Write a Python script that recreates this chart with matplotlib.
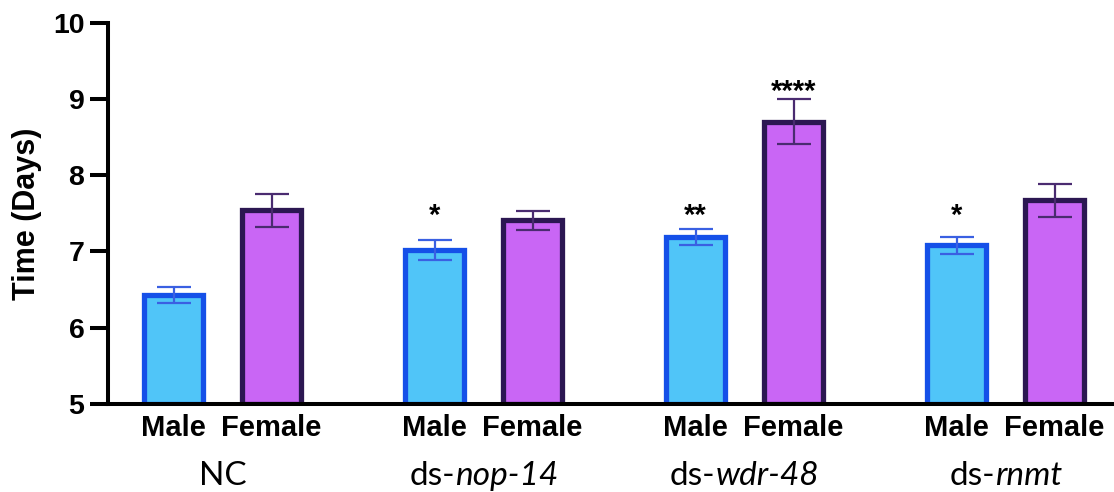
import matplotlib
matplotlib.use("Agg")
import matplotlib.pyplot as plt
from matplotlib.transforms import offset_copy
import numpy as np

# Development time per sex and RNAi treatment
group_prefix = ["", "ds-", "ds-", "ds-"]
group_gene = ["NC", "nop-14", "wdr-48", "rnmt"]
group_italic = [False, True, True, True]
sexes = ["Male", "Female"]
male_mean = [6.43, 7.02, 7.19, 7.08]
male_sem = [0.105, 0.135, 0.107, 0.114]
female_mean = [7.54, 7.41, 8.70, 7.67]
female_sem = [0.219, 0.125, 0.295, 0.212]
male_sig = ["", "*", "**", "*"]
female_sig = ["", "", "****", ""]
male_sig_y = [7.36, 7.36, 7.36, 7.36]
female_sig_y = [8.99, 8.99, 8.99, 8.99]
yticks = [5, 6, 7, 8, 9, 10]

BOLD = "Liberation Sans"
LABEL = "Lato"
MALE_FILL, MALE_EDGE, MALE_ERR = "#50c5f8", "#1550e8", "#3a60e2"
FEM_FILL, FEM_EDGE, FEM_ERR = "#c966f5", "#2c1752", "#4a2b70"

W, H = 1114, 492
fig = plt.figure(figsize=(W / 100, H / 100), dpi=100)
ax = fig.add_axes([108 / W, (H - 404) / H, (W - 108) / W, (404 - 22.7) / H])

gap = 2.663
centers = np.arange(len(group_gene)) * gap
xm = centers - 0.5
xf = centers + 0.5
bw = 0.602

ax.bar(xm, np.array(male_mean) - 5, bottom=5, width=bw, color=MALE_FILL,
       edgecolor=MALE_EDGE, linewidth=3.8, zorder=2)
ax.bar(xf, np.array(female_mean) - 5, bottom=5, width=bw, color=FEM_FILL,
       edgecolor=FEM_EDGE, linewidth=3.8, zorder=2)
ax.errorbar(xm, male_mean, yerr=male_sem, fmt="none", ecolor=MALE_ERR,
            elinewidth=1.6, capsize=12, capthick=1.6, zorder=3)
ax.errorbar(xf, female_mean, yerr=female_sem, fmt="none", ecolor=FEM_ERR,
            elinewidth=1.6, capsize=12, capthick=1.6, zorder=3)

for x, s, y in zip(xm, male_sig, male_sig_y):
    if s:
        ax.text(x, y, s, ha="center", va="baseline", fontsize=21,
                fontweight="bold", family=BOLD, color="black")
for x, s, y in zip(xf, female_sig, female_sig_y):
    if s:
        ax.text(x, y, s, ha="center", va="baseline", fontsize=21,
                fontweight="bold", family=BOLD, color="black")

ax.set_xlim(-1.17, -1.17 + 1006 / 98)
ax.set_ylim(5, 10)
ax.set_yticks(yticks)
ax.set_yticklabels([str(t) for t in yticks], fontsize=20.5, fontweight="bold",
                   family=BOLD)
ax.tick_params(axis="y", length=13, width=2.9, pad=4)
ax.set_xticks([])

for side in ("top", "right"):
    ax.spines[side].set_visible(False)
for side in ("left", "bottom"):
    ax.spines[side].set_linewidth(2.9)

ax.set_ylabel("Time (Days)", fontsize=22, fontweight="bold", family=BOLD,
              labelpad=8)

# sex labels under each bar
for xs, lab in ((xm, sexes[0]), (xf, sexes[1])):
    for x in xs:
        ax.annotate(lab, xy=(x, 0), xycoords=("data", "axes fraction"),
                    xytext=(0, -23), textcoords="offset points", ha="center",
                    va="baseline", fontsize=21, fontweight="bold", family=BOLD)

# group names: upright prefix followed by an italic gene name
renderer = fig.canvas.get_renderer()
base = matplotlib.transforms.blended_transform_factory(ax.transData, ax.transAxes)
GFS = 24
for x, pre, gene, it in zip(centers, group_prefix, group_gene, group_italic):
    t_pre = fig.text(0, 0, pre, fontsize=GFS, family=LABEL)
    t_gene = fig.text(0, 0, gene, fontsize=GFS, family=LABEL,
                      style="italic" if it else "normal")
    w_pre = t_pre.get_window_extent(renderer).width if pre else 0.0
    w_gene = t_gene.get_window_extent(renderer).width
    t_pre.remove()
    t_gene.remove()
    total = w_pre + w_gene
    left_pt = -total / 2 * 72 / fig.dpi
    if pre:
        ax.text(x, 0, pre, fontsize=GFS, family=LABEL, ha="left", va="baseline",
                transform=offset_copy(base, fig=fig, x=left_pt, y=-58.3,
                                      units="points"))
    ax.text(x, 0, gene, fontsize=GFS, family=LABEL, ha="left", va="baseline",
            style="italic" if it else "normal",
            transform=offset_copy(base, fig=fig,
                                  x=left_pt + w_pre * 72 / fig.dpi, y=-58.3,
                                  units="points"))

fig.savefig("out.png", dpi=100)
